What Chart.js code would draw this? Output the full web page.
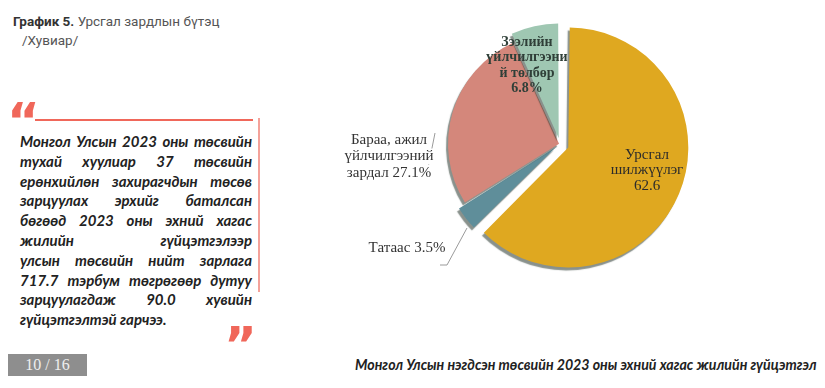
<!DOCTYPE html>
<html>
<head>
<meta charset="utf-8">
<script src="https://cdn.jsdelivr.net/npm/chart.js@4.4.0/dist/chart.umd.min.js"></script>
<style>
html, body { margin: 0; padding: 0; background: #fff; }
body { width: 825px; height: 388px; position: relative; overflow: hidden; font-family: Roboto, sans-serif; }
#title { position: absolute; left: 13px; top: 12px; font-size: 13.5px; line-height: 19px; color: #555; }
#title b { color: #333; }
#title .sub { padding-left: 9px; }
.qopen, .qclose { position: absolute; color: #f0675a; font-family: "DejaVu Sans", sans-serif; font-weight: bold; font-size: 50px; line-height: 50px; }
.qopen { left: 7px; top: 96px; }
.qclose { left: 224px; top: 320px; }
#hline { position: absolute; left: 35px; top: 119px; width: 218px; height: 2px; background: #f0675a; }
#vline { position: absolute; left: 258px; top: 118px; width: 2px; height: 174px; background: #f4a29a; }
#quote { position: absolute; left: 20px; top: 132px; width: 232px; font-family: Lato, sans-serif; font-style: italic; font-weight: bold; font-size: 15px; line-height: 19.8px; color: #222; }
#quote div { text-align: justify; text-align-last: justify; white-space: nowrap; }
#quote div.last { text-align-last: left; }
#page { position: absolute; left: 8px; top: 354px; width: 79px; height: 22px; background: #8e8e8e; color: #eee; font-family: "Liberation Serif", serif; font-size: 16px; line-height: 22px; text-align: center; }
#foot { position: absolute; left: 355px; top: 356px; width: 463px; font-family: Lato, sans-serif; font-style: italic; font-weight: bold; font-size: 14.2px; color: #222; white-space: nowrap; }
#chart { position: absolute; left: 340px; top: 0px; }
</style>
</head>
<body>
<div id="title"><b>График 5.</b> Урсгал зардлын бүтэц<br><span class="sub">/Хувиар/</span></div>
<div class="qopen">“</div>
<div id="hline"></div>
<div id="vline"></div>
<div id="quote">
  <div>Монгол Улсын 2023 оны төсвийн</div>
  <div>тухай хуулиар 37 төсвийн</div>
  <div>ерөнхийлөн захирагчдын төсөв</div>
  <div>зарцуулах эрхийг баталсан</div>
  <div>бөгөөд 2023 оны эхний хагас</div>
  <div>жилийн гүйцэтгэлээр</div>
  <div>улсын төсвийн нийт зарлага</div>
  <div>717.7 тэрбум төгрөгөөр дутуу</div>
  <div>зарцуулагдаж 90.0 хувийн</div>
  <div class="last">гүйцэтгэлтэй гарчээ.</div>
</div>
<div class="qclose">”</div>
<div id="page">10 / 16</div>
<div id="foot">Монгол Улсын нэгдсэн төсвийн 2023 оны эхний хагас жилийн гүйцэтгэл</div>
<canvas id="chart" width="440" height="288"></canvas>
<script>
var categories = ['Урсгал шилжүүлэг', 'Татаас', 'Бараа, ажил үйлчилгээний зардал', 'Зээлийн үйлчилгээний төлбөр'];
var shares = [62.6, 3.5, 27.1, 6.8];
var sliceColors = ['#dfa820', '#5f8e9a', '#d4877b', '#9fc7b2'];
var sliceOffsets = [36, 20, 4, 24];

// label text, wrapped like in the picture
var labelLines = [
    ['Урсгал', 'шилжүүлэг', String(shares[0])],
    ['Татаас ' + shares[1] + '%'],
    ['Бараа, ажил', 'үйлчилгээний', 'зардал ' + shares[2] + '%'],
    ['Зээлийн', 'үйлчилгээни', 'й төлбөр', shares[3] + '%']
];

var pieLabels = {
    id: 'pieLabels',
    beforeDatasetsDraw: function(chart) {
        var ctx = chart.ctx;
        ctx.save();
        ctx.shadowColor = 'rgba(40,55,45,0.55)';
        ctx.shadowOffsetX = -2;
        ctx.shadowOffsetY = 3;
        ctx.shadowBlur = 1;
    },
    afterDatasetsDraw: function(chart, args, opts) {
        var ctx = chart.ctx;
        ctx.restore();
        var arcs = chart.getDatasetMeta(0).data;
        var cx = arcs[0].x, cy = arcs[0].y;

        // leader lines
        ctx.save();
        ctx.strokeStyle = '#9a9a9a';
        ctx.lineWidth = 1;
        ctx.beginPath();
        ctx.moveTo(cx - 93, cy + 84);
        ctx.lineTo(cx - 113, cy + 121);
        ctx.lineTo(cx - 120, cy + 121);
        ctx.moveTo(cx - 125, cy - 11);
        ctx.lineTo(cx - 132, cy + 24);
        ctx.stroke();
        ctx.restore();

        ctx.save();
        ctx.textAlign = 'center';
        ctx.textBaseline = 'middle';
        labelLines.forEach(function(lines, i) {
            var p = opts.pos[i];
            ctx.font = opts.fonts[i];
            lines.forEach(function(t, k) {
                if (i === 2 || i === 1) {
                    ctx.fillStyle = '#fff';
                    var w = ctx.measureText(t).width;
                    ctx.fillRect(cx + p[0] - w / 2 - 1, cy + p[1] + k * opts.lh[i] - 8, w + 2, 16);
                }
                ctx.fillStyle = opts.colors[i];
                ctx.fillText(t, cx + p[0], cy + p[1] + k * opts.lh[i]);
            });
        });
        ctx.restore();
    }
};

new Chart(document.getElementById('chart').getContext('2d'), {
    type: 'pie',
    data: {
        labels: categories,
        datasets: [{
            data: shares,
            backgroundColor: sliceColors,
            borderWidth: 0,
            offset: sliceOffsets
        }]
    },
    options: {
        responsive: false,
        animation: false,
        radius: 111,
        layout: { padding: 0 },
        plugins: {
            legend: { display: false },
            tooltip: { enabled: false },
            pieLabels: {
                pos: [[87, 11], [-153, 104], [-171, -4], [-33, -102]],
                lh: [15.5, 15, 16.5, 15.5],
                fonts: ['15px "Liberation Serif"', '15px "Liberation Serif"', '15px "Liberation Serif"', 'bold 14px "Liberation Serif"'],
                colors: ['#2b2b2b', '#333', '#333', '#2f3f38']
            }
        }
    },
    plugins: [pieLabels]
});
</script>
</body>
</html>
